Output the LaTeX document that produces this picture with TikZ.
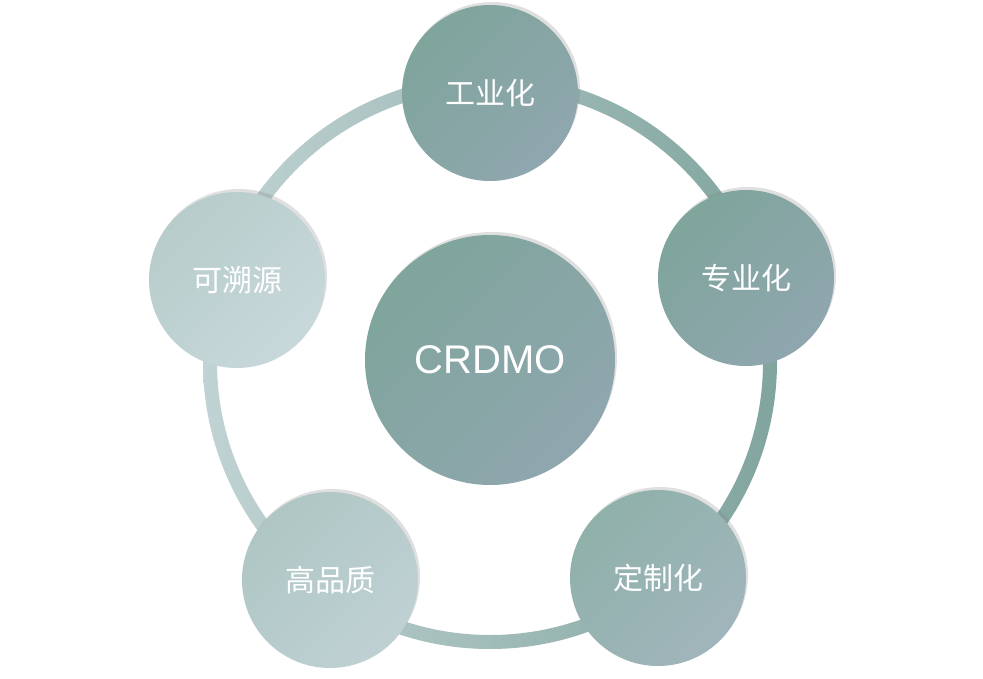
\documentclass[tikz,border=0pt]{standalone}
\usepackage{fontspec}
\setmainfont{Liberation Sans}
\newfontfamily\cjk{Noto Sans CJK SC}
\usetikzlibrary{shadows}
\definecolor{cA}{HTML}{7FA59C}
\definecolor{cB}{HTML}{8FA6AE}
\definecolor{cL}{HTML}{B7CCCB}
\definecolor{cL2}{HTML}{C8D8DA}
\begin{document}
\begin{tikzpicture}[x=1pt,y=-1pt,
  bub/.style={circle,minimum size=176pt,inner sep=0pt,text=white,font=\cjk\fontsize{30}{34}\selectfont,
    drop shadow={opacity=0.25,shadow xshift=2pt,shadow yshift=3pt}},
  dark/.style={bub,left color=cA,right color=cB,shading angle=45},
  light/.style={bub,left color=cL,right color=cL2,shading angle=45}]
\useasboundingbox (0,0) rectangle (983,679);
\fill[white] (0,0) rectangle (983,679);
\shade[even odd rule,left color=cL2!90!cA,right color=cA!90!cB] (490,362) circle (287) (490,362) circle (273);
\node[dark,minimum size=250pt,font=\fontsize{40}{44}\selectfont] (c) at (490,360) {CRDMO};
\node[dark] (t) at (490,93) {工业化};
\node[dark] (r) at (746,278) {专业化};
\node[bub,left color=cA!70!cL,right color=cB!70!cL2,shading angle=45] (br) at (658,578) {定制化};
\node[bub,left color=cL!85!cA,right color=cL2!85!cB,shading angle=45] (bl) at (330,580) {高品质};
\node[light] (l) at (237,280) {可溯源};
\end{tikzpicture}
\end{document}
